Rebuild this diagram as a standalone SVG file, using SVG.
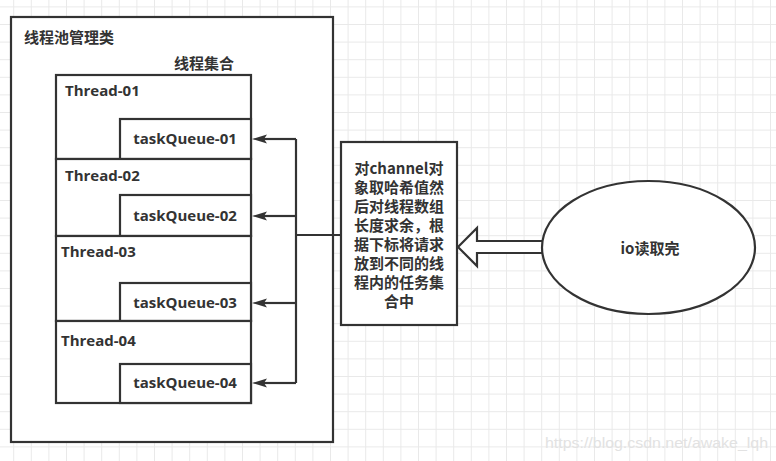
<svg xmlns="http://www.w3.org/2000/svg" width="776" height="461" viewBox="0 0 776 461">
<defs>
<pattern id="grid" patternUnits="userSpaceOnUse" x="13.2" y="6.4" width="17.6" height="17.6">
<path d="M0 0.5 H17.6 M0.5 0 V17.6" fill="none" stroke="#e9e9e9" stroke-width="1"/>
</pattern>
<marker id="ah" viewBox="0 0 15 10" refX="3" refY="5" markerWidth="15" markerHeight="10" markerUnits="userSpaceOnUse" orient="auto">
<path d="M0 0.5 L15 5 L0 9.5 L3 5 Z" fill="#333"/>
</marker>
<style>
.box{fill:#fff;stroke:#333;stroke-width:2.2}
.t{font-family:'Open Sans','Noto Sans CJK SC',sans-serif;font-weight:bold;fill:#333}
.c{font-family:'Noto Sans CJK SC',sans-serif;font-weight:bold;fill:#333;font-size:15px}
.lat{font-size:15px}
.conn{fill:none;stroke:#333;stroke-width:2.2}
</style>
</defs>
<rect width="776" height="461" fill="#fff"/>
<rect width="776" height="461" fill="url(#grid)"/>

<g id="pool">
<rect class="box" x="11" y="17" width="322" height="425"/>
<text class="c" x="24" y="43">线程池管理类</text>
<text class="c" x="174" y="69">线程集合</text>
</g>

<g id="thread-01">
<rect class="box" x="56" y="75" width="195" height="84"/>
<text class="t lat" x="65" y="96">Thread-01</text>
</g>
<g id="taskQueue-01">
<rect class="box" x="120" y="119" width="131" height="40"/>
<text class="t lat" x="185" y="144" text-anchor="middle">taskQueue-01</text>
</g>
<g id="thread-02">
<rect class="box" x="56" y="159" width="195" height="77"/>
<text class="t lat" x="65" y="181">Thread-02</text>
</g>
<g id="taskQueue-02">
<rect class="box" x="120" y="195" width="131" height="41"/>
<text class="t lat" x="185" y="221" text-anchor="middle">taskQueue-02</text>
</g>
<g id="thread-03">
<rect class="box" x="56" y="236" width="195" height="85"/>
<text class="t lat" x="61" y="257">Thread-03</text>
</g>
<g id="taskQueue-03">
<rect class="box" x="120" y="283" width="131" height="38"/>
<text class="t lat" x="185" y="308" text-anchor="middle">taskQueue-03</text>
</g>
<g id="thread-04">
<rect class="box" x="56" y="321" width="195" height="82"/>
<text class="t lat" x="61" y="346">Thread-04</text>
</g>
<g id="taskQueue-04">
<rect class="box" x="120" y="364" width="131" height="39"/>
<text class="t lat" x="185" y="388" text-anchor="middle">taskQueue-04</text>
</g>

<g id="connectors">
<path class="conn" d="M341 235 H296"/>
<path class="conn" d="M296 139 V383"/>
<path class="conn" d="M296 139 H264" marker-end="url(#ah)"/>
<path class="conn" d="M296 216 H264" marker-end="url(#ah)"/>
<path class="conn" d="M296 303 H264" marker-end="url(#ah)"/>
<path class="conn" d="M296 383 H264" marker-end="url(#ah)"/>
<path d="M543 241 H477 V228 L458 247 L477 266 V253 H543 Z" fill="#fff" stroke="#333" stroke-width="2.2" stroke-linejoin="miter"/>
</g>

<g id="dispatch">
<rect class="box" x="341" y="142" width="116" height="183"/>
<g class="c" text-anchor="middle">
<text x="399" y="174">对channel对</text>
<text x="399" y="193">象取哈希值然</text>
<text x="399" y="212">后对线程数组</text>
<text x="399" y="231">长度求余，根</text>
<text x="399" y="250">据下标将请求</text>
<text x="399" y="269">放到不同的线</text>
<text x="399" y="288">程内的任务集</text>
<text x="399" y="307">合中</text>
</g>
</g>

<g id="io-done">
<ellipse class="box" cx="648.5" cy="247.5" rx="106.5" ry="66.5"/>
<text class="c" x="650" y="254" text-anchor="middle">io读取完</text>
</g>

<text x="545" y="448" font-family="'Liberation Sans',sans-serif" font-size="15" fill="#e2e2e2" textLength="223" lengthAdjust="spacingAndGlyphs">https://blog.csdn.net/awake_lqh</text>
</svg>
